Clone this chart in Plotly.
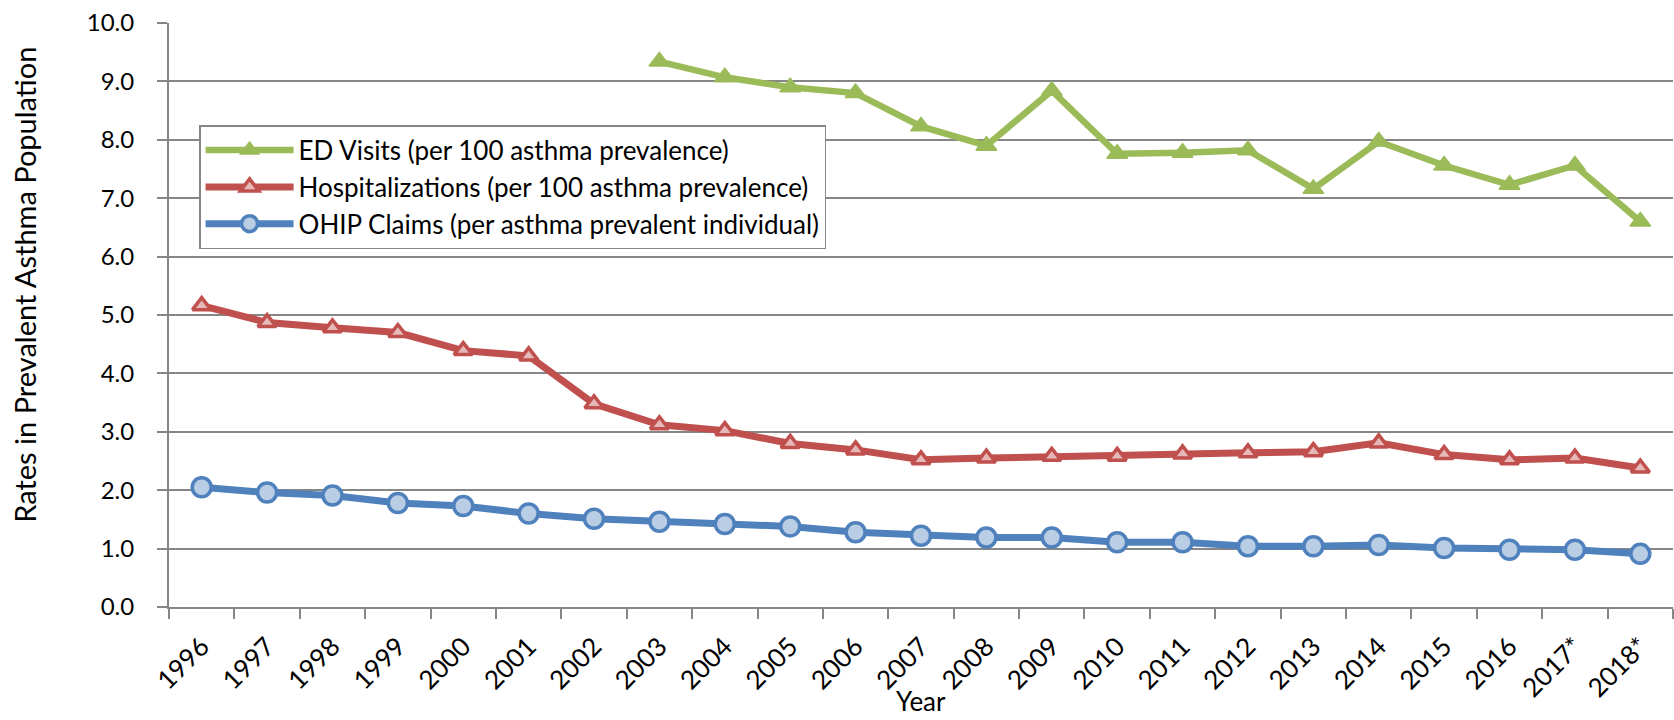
import plotly.graph_objects as go

years = ["1996", "1997", "1998", "1999", "2000", "2001", "2002", "2003", "2004", "2005",
         "2006", "2007", "2008", "2009", "2010", "2011", "2012", "2013", "2014", "2015",
         "2016", "2017*", "2018*"]

ed_visits = [None, None, None, None, None, None, None, 9.34, 9.07, 8.90,
             8.80, 8.23, 7.90, 8.84, 7.76, 7.78, 7.82, 7.16, 7.97, 7.56,
             7.23, 7.56, 6.60]

hospitalizations = [5.16, 4.87, 4.78, 4.70, 4.39, 4.30, 3.48, 3.12, 3.02, 2.80,
                    2.69, 2.52, 2.55, 2.58, 2.58, 2.62, 2.64, 2.66, 2.81, 2.61,
                    2.52, 2.55, 2.38]

ohip_claims = [2.05, 1.96, 1.91, 1.78, 1.73, 1.60, 1.51, 1.46, 1.42, 1.38,
               1.28, 1.22, 1.19, 1.19, 1.11, 1.11, 1.04, 1.04, 1.06, 1.01,
               0.98, 0.98, 0.91]

names = ["ED Visits (per 100 asthma prevalence)",
         "Hospitalizations (per 100 asthma prevalence)",
         "OHIP Claims (per asthma prevalent individual)"]

FONT = "Lato, Calibri, Carlito, sans-serif"
GRID = "#868686"

fig = go.Figure()
fig.add_trace(go.Scatter(
    x=years, y=ed_visits, name=names[0], mode="lines+markers",
    line=dict(color="#9BBB59", width=6.5),
    marker=dict(symbol="triangle-up", size=18, color="#9BBB59",
                line=dict(color="#9BBB59", width=1.5)),
))
fig.add_trace(go.Scatter(
    x=years, y=hospitalizations, name=names[1], mode="lines+markers",
    line=dict(color="#C0504D", width=7),
    marker=dict(symbol="triangle-up", size=16, color="#E6B9B8",
                line=dict(color="#C0504D", width=3.5)),
))
fig.add_trace(go.Scatter(
    x=years, y=ohip_claims, name=names[2], mode="lines+markers",
    line=dict(color="#4F81BD", width=7),
    marker=dict(symbol="circle", size=19, color="#B9CDE5",
                line=dict(color="#4F81BD", width=3.5)),
))

fig.update_layout(
    width=1674, height=720,
    margin=dict(l=169, r=1, t=23, b=113),
    paper_bgcolor="white", plot_bgcolor="white",
    font=dict(family=FONT, color="black"),
    showlegend=True,
    legend=dict(x=0.02, y=0.825, xanchor="left", yanchor="top",
                bordercolor=GRID, borderwidth=1.5, bgcolor="white",
                font=dict(size=26, family=FONT, color="black"),
                itemwidth=88, tracegroupgap=0),
    xaxis=dict(
        type="category", showgrid=False, showline=True, linecolor=GRID, linewidth=2,
        ticks="outside", tickson="boundaries", ticklen=10, tickcolor=GRID, tickwidth=2,
        tickangle=-45, tickfont=dict(size=26, family=FONT, color="black"),
        ticklabelstandoff=12,
        range=[-0.5, len(years) - 0.5],
    ),
    yaxis=dict(
        range=[0, 10], dtick=1, tickformat=".1f", showgrid=True, gridcolor=GRID, gridwidth=2,
        showline=True, linecolor=GRID, linewidth=2, zeroline=False,
        ticks="outside", ticklen=10, tickcolor=GRID, tickwidth=2,
        tickfont=dict(size=24, family=FONT, color="black"),
        ticklabelstandoff=18,
    ),
    annotations=[
        dict(text="Year", xref="paper", yref="paper", x=0.5, y=-0.1918,
             xanchor="center", yanchor="bottom", showarrow=False,
             font=dict(size=26, family=FONT, color="black")),
        dict(text="Rates in Prevalent Asthma Population", xref="paper", yref="paper",
             x=-0.0957, y=0.552, xanchor="center", yanchor="middle", textangle=-90,
             showarrow=False, font=dict(size=29, family=FONT, color="black")),
    ],
)

fig.write_html("out.html", config={"displayModeBar": False},
               post_script="document.body.style.margin='0px';")
